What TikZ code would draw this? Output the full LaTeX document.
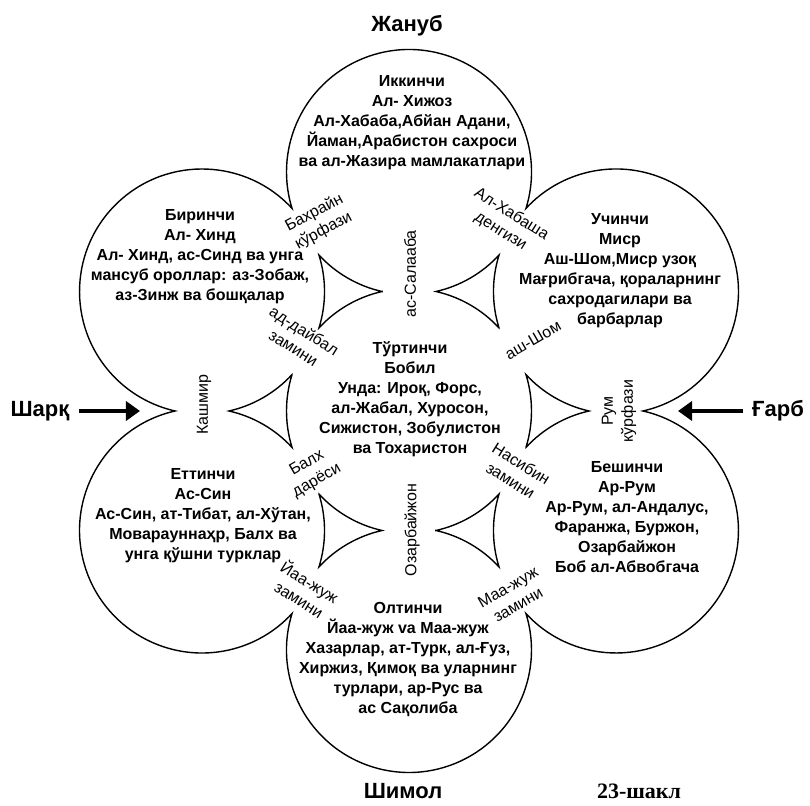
\documentclass[tikz,border=0pt]{standalone}
\usepackage{fontspec}
\setmainfont{Liberation Sans}
\newfontfamily\captionfont{Liberation Serif}
\usetikzlibrary{arrows.meta}

\tikzset{
    border/.style={line width=1.4pt},
    climate/.style={font=\bfseries\fontsize{16}{20}\selectfont, align=center, inner sep=1pt},
    sealabel/.style={font=\fontsize{16}{20}\selectfont, align=center, inner sep=0pt},
    quarter/.style={font=\bfseries\fontsize{22}{26}\selectfont},
    dirarrow/.style={line width=4.5pt, -{Triangle[length=14pt,width=19pt]}, shorten <=6pt},
}

\begin{document}
\begin{tikzpicture}[x=1pt, y=1pt]
    \useasboundingbox (-409,-394) rectangle (401,411);
    \def\rad{122.5}
    \def\dist{239}
    \pgfmathsetmacro\al{acos(\dist/(2*\rad))}

    % circle centres
    \coordinate (c4) at (0,0);
    \foreach \i/\t in {1/150, 2/90, 3/30, 5/330, 6/270, 7/210}
    {
        \coordinate (c\i) at (\t:\dist);
    }

    % outer border
    \draw[border]
        (c2) ++({-30+\al}:\rad)
        \foreach \t in {90,150,210,270,330,390}
        {
            arc[start angle=\t-120+\al, end angle=\t+120-\al, radius=\rad]
        } -- cycle;

    % gaps between three circles
    \foreach \t in {90,150,210,270,330,30}
    {
        \draw[border]
            ({\t+\al}:\rad)
            arc[start angle=\t+180-\al, end angle=\t+120+\al, radius=\rad]
            arc[start angle=\t-60-\al, end angle=\t-120+\al, radius=\rad]
            arc[start angle=\t+60-\al, end angle=\t+\al, radius=\rad] -- cycle;
    }

    % climates
    \foreach \name/\x/\y/\txt in {
        first/-209/154/{Биринчи\\Ал- Хинд\\Ал- Хинд, ас-Синд ва унга\\мансуб ороллар: аз-Зобаж,\\аз-Зинж ва бошқалар},
        second/3/288/{Иккинчи\\Ал- Хижоз\\Ал-Хабаба,Абйан Адани,\\Йаман,Арабистон сахроси\\ва ал-Жазира мамлакатлари},
        third/211/140/{Учинчи\\Миср\\Аш-Шом,Миср узоқ\\Мағрибгача, қораларнинг\\сахродагилари ва\\барбарлар},
        fourth/1/12/{Тўртинчи\\Бобил\\Унда: Ироқ, Форс,\\ал-Жабал, Хуросон,\\Сижистон, Зобулистон\\ва Тохаристон},
        fifth/218/-106/{Бешинчи\\Ар-Рум\\Ар-Рум, ал-Андалус,\\Фаранжа, Буржон,\\Озарбайжон\\Боб ал-Абвобгача},
        sixth/-1/-249/{Олтинчи\\Йаа-жуж vа Маа-жуж\\Хазарлар, ат-Турк, ал-Ғуз,\\Хиржиз, Қимоқ ва уларнинг\\турлари, ар-Рус ва\\ас Сақолиба},
        seventh/-206/-105/{Еттинчи\\Ас-Син\\Ас-Син, ат-Тибат, ал-Хўтан,\\Моварауннаҳр, Балх ва\\унга қўшни турклар}}
    {
        \node[climate] (\name) at (\x,\y) {\txt};
    }

    % seas and lands between the circles
    \foreach \name/\x/\y/\rot/\txt in {
        bahrain/-90/189/28/{Бахрайн\\кўрфази},
        habasha/97/188/-32/{Ал-Хабаша\\денгизи},
        salaaba/1/137/90/{ас-Салааба},
        daybal/-110/72/-32/{ад-дайбал\\замини},
        shom/124/71/30/{аш-Шом},
        kashmir/-205/6/90/{Кашмир},
        rum/210/0/90/{Рум\\кўрфази},
        balkh/-97/-61/30/{Балх\\дарёси},
        nasibin/107/-61/-32/{Насибин\\замини},
        ozarbayjon/3/-119/90/{Озарбайжон},
        yajuj/-104/-179/-32/{Йаа-жуж\\замини},
        majuj/104/-185/30/{Маа-жуж\\замини}}
    {
        \node[sealabel, rotate=\rot] (\name) at (\x,\y) {\txt};
    }

    % quarters
    \node[quarter] (south) at (-2,385) {Жануб};
    \node[quarter] (north) at (-6,-380) {Шимол};
    \node[quarter] (east) at (-369,0) {Шарқ};
    \node[quarter] (west) at (369,0) {Ғарб};
    \coordinate (eastcusp) at (-269,0);
    \coordinate (westcusp) at (269,0);
    \draw[dirarrow] (east) -- (eastcusp);
    \draw[dirarrow] (west) -- (westcusp);

    \node[font=\captionfont\bfseries\fontsize{22}{26}\selectfont] (caption) at (230,-380) {23-шакл};
\end{tikzpicture}
\end{document}
